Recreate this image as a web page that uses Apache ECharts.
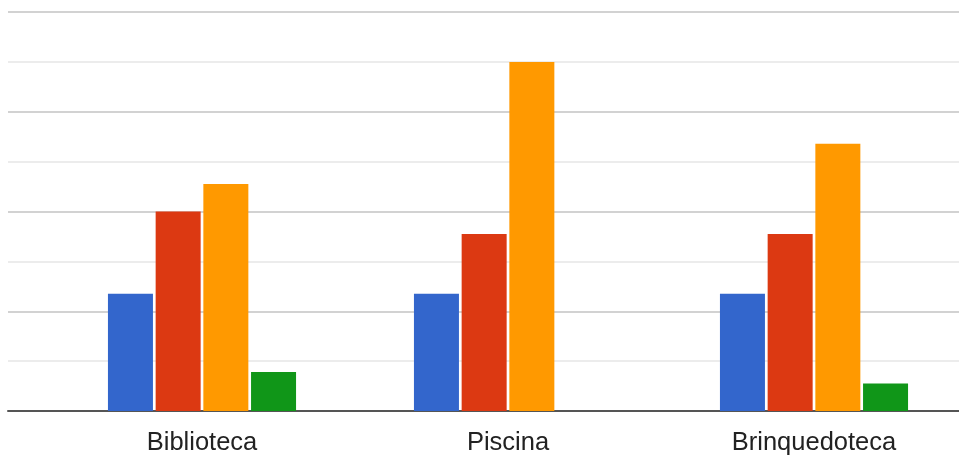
<!DOCTYPE html>
<html>
<head>
<meta charset="utf-8">
<style>
  html, body { margin: 0; padding: 0; background: #ffffff; overflow: hidden; }
  #chart { width: 970px; height: 459px; }
</style>
<script src="https://cdn.jsdelivr.net/npm/echarts@6/dist/echarts.min.js"></script>
</head>
<body>
<div id="chart"></div>
<script>
// Facilities compared across four groups
const categories = ['Biblioteca', 'Piscina', 'Brinquedoteca'];
const seriesBlue   = [2.35, 2.35, 2.35];
const seriesRed    = [4.0, 3.55, 3.55];
const seriesOrange = [4.55, 7.0, 5.36];
const seriesGreen  = [0.78, 0, 0.55];
const yTicks = { min: 0, max: 8, interval: 2 };

const colors = ['#3366cc', '#dc3912', '#ff9900', '#109618'];
const seriesData = [seriesBlue, seriesRed, seriesOrange, seriesGreen];

const chart = echarts.init(document.getElementById('chart'), null, { renderer: 'canvas' });

const option = {
  animation: false,
  backgroundColor: '#ffffff',
  grid: [
    // background grid: gridlines and baseline across the visible width
    { left: 8, right: 11, top: 12, bottom: 48, containLabel: false },
    // bar grid (runs slightly past the visible right edge)
    { left: 49, width: 918, top: 12, bottom: 48, containLabel: false }
  ],
  xAxis: [
    {
      gridIndex: 0, type: 'value', min: 0, max: 1,
      axisLine: { show: true, lineStyle: { color: '#555555', width: 2 } },
      axisTick: { show: false }, axisLabel: { show: false }, splitLine: { show: false }
    },
    {
      gridIndex: 1, type: 'category', data: categories,
      axisLine: { show: false }, axisTick: { show: false },
      axisLabel: {
        color: '#222222', fontFamily: 'Liberation Sans, Arial, sans-serif',
        fontSize: 25.5, margin: 19
      }
    }
  ],
  yAxis: [
    {
      gridIndex: 0, type: 'value', min: yTicks.min, max: yTicks.max, interval: yTicks.interval,
      axisLine: { show: false }, axisTick: { show: false }, axisLabel: { show: false },
      splitLine: { show: true, lineStyle: { color: '#d2d2d2', width: 2 } },
      minorTick: { show: false, splitNumber: 2 },
      minorSplitLine: { show: true, lineStyle: { color: '#ececec', width: 2 } }
    },
    {
      gridIndex: 1, type: 'value', min: yTicks.min, max: yTicks.max, interval: yTicks.interval,
      axisLine: { show: false }, axisTick: { show: false }, axisLabel: { show: false },
      splitLine: { show: false }
    }
  ],
  series: seriesData.map((d, i) => ({
    type: 'bar',
    xAxisIndex: 1,
    yAxisIndex: 1,
    data: d,
    barWidth: 45,
    barGap: '6%',
    itemStyle: { color: colors[i] },
    z: 3
  }))
};

chart.setOption(option);
</script>
</body>
</html>
